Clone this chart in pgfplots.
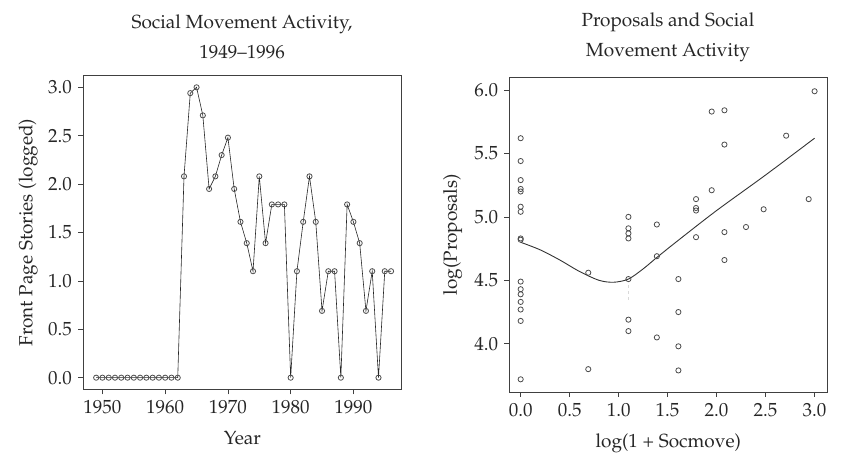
\documentclass[border=0pt]{standalone}
\usepackage[T1]{fontenc}
\usepackage{mathpazo}
\usepackage{pgfplots}
\pgfplotsset{compat=1.18}
\pgfplotstableread{
year v
1949 0
1950 0
1951 0
1952 0
1953 0
1954 0
1955 0
1956 0
1957 0
1958 0
1959 0
1960 0
1961 0
1962 0
1963 2.08
1964 2.94
1965 3.00
1966 2.71
1967 1.95
1968 2.08
1969 2.30
1970 2.48
1971 1.95
1972 1.61
1973 1.39
1974 1.10
1975 2.08
1976 1.39
1977 1.79
1978 1.79
1979 1.79
1980 0
1981 1.10
1982 1.61
1983 2.08
1984 1.61
1985 0.69
1986 1.10
1987 1.10
1988 0
1989 1.79
1990 1.61
1991 1.39
1992 0.69
1993 1.10
1994 0
1995 1.10
1996 1.10
}\socmove
\pgfplotstableread{
x y
0 5.62
0 5.44
0 5.29
0 5.22
0 5.20
0 5.08
0 5.04
0 4.83
0 4.82
0 4.49
0 4.43
0 4.39
0 4.33
0 4.27
0 4.18
0 3.72
0.69 4.56
0.69 3.80
1.10 5.00
1.10 4.91
1.10 4.87
1.10 4.83
1.10 4.51
1.10 4.19
1.10 4.10
1.39 4.94
1.39 4.69
1.39 4.05
1.61 4.51
1.61 4.25
1.61 3.98
1.61 3.79
1.79 5.14
1.79 5.07
1.79 5.05
1.79 4.84
1.95 5.83
1.95 5.21
2.08 5.84
2.08 5.57
2.08 4.88
2.08 4.66
2.30 4.92
2.48 5.06
2.71 5.64
2.94 5.14
3.00 5.99
}\props
\begin{document}
\fontsize{18}{21}\selectfont
\begin{tikzpicture}
\path (0,0) rectangle (843pt,458pt);
\pgfplotsset{
  myaxis/.style={
    scale only axis,
    anchor=south west,
    axis line style={black!75, line width=0.8pt},
    tick style={black!75, line width=0.7pt},
    tick align=outside,
    major tick length=5pt,
    xtick pos=bottom, ytick pos=left,
    ticklabel style={font=\fontsize{19}{22}\selectfont, black!85},
    label style={font=\fontsize{19}{22}\selectfont, black!85},
    xlabel style={yshift=-5pt},
    /pgf/number format/assume math mode=true,
    yticklabel style={/pgf/number format/fixed, /pgf/number format/fixed zerofill, /pgf/number format/precision=1},
  }
}
\begin{axis}[myaxis,
  at={(83pt,68.7pt)}, width=318.7pt, height=313.6pt,
  xmin=1946.9, xmax=1997.7, ymin=-0.12, ymax=3.12,
  xtick={1950,1960,1970,1980,1990},
  xticklabel style={/pgf/number format/1000 sep={}},
  ytick={0,0.5,1,1.5,2,2.5,3},
  xlabel={Year}, ylabel={Front Page Stories (logged)},
  ylabel style={yshift=-2pt},
]
\addplot[black!85, line width=0.6pt, mark=o, mark size=2.6pt,
  mark options={draw=black!70, line width=0.8pt, fill=white}] table[x=year,y=v] {\socmove};
\end{axis}
\begin{axis}[myaxis,
  at={(509.3pt,66pt)}, width=318pt, height=314.7pt,
  xmin=-0.116, xmax=3.13, ymin=3.62, ymax=6.10,
  xtick={0,0.5,1,1.5,2,2.5,3},
  ytick={4,4.5,5,5.5,6},
  xticklabel style={/pgf/number format/fixed, /pgf/number format/fixed zerofill, /pgf/number format/precision=1},
  xlabel={log(1 + Socmove)}, ylabel={log(Proposals)},
]
\addplot[black!15, line width=1.6pt, dashed, forget plot] coordinates {(1.1,4.46) (1.1,4.32)};
\addplot[only marks, mark=o, mark size=2.6pt,
  mark options={draw=black!70, line width=0.8pt}] table[x=x,y=y] {\props};
\addplot[smooth, black!80, line width=0.9pt] coordinates {
(0,4.80) (0.2,4.74) (0.4,4.66) (0.6,4.57) (0.8,4.50) (0.95,4.485) (1.1,4.51) (1.25,4.59) (1.39,4.68) (1.6,4.81) (2.0,5.05) (2.5,5.33) (3.0,5.62)};
\end{axis}
\node[align=center, font=\fontsize{19}{30}\selectfont, black!85] at (242pt,421pt) {Social Movement Activity,\\1949--1996};
\node[align=center, font=\fontsize{19}{30}\selectfont, black!85] at (668pt,421pt) {Proposals and Social\\Movement Activity};
\end{tikzpicture}
\end{document}
